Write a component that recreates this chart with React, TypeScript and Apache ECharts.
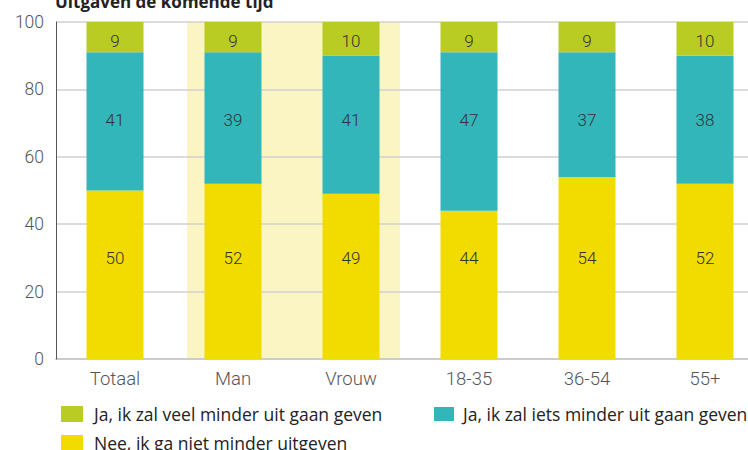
import React, { useEffect, useRef } from "react";
import * as echarts from "echarts";

const categories = ["Totaal", "Man", "Vrouw", "18-35", "36-54", "55+"];
const seriesNames = [
  "Ja, ik zal veel minder uit gaan geven",
  "Ja, ik zal iets minder uit gaan geven",
  "Nee, ik ga niet minder uitgeven",
];
const nee = [50, 52, 49, 44, 54, 52];
const iets = [41, 39, 41, 47, 37, 38];
const veel = [9, 9, 10, 9, 9, 10];
const highlightRange = [[1, 2]];
const title = "Uitgaven de komende tijd";
// value level at which each series' labels are printed
const labelLevels = { nee: 30, iets: 71, veel: 94.4 };

const YELLOW = "#f2dc00";
const TEAL = "#33b6ba";
const LIME = "#b8cc23";
const HIGHLIGHT = "#faf5c2";
const NUM_FONT = "Roboto";

export default function App() {
  const ref = useRef<HTMLDivElement>(null);
  useEffect(() => {
    if (!ref.current) return;
    const chart = echarts.init(ref.current, undefined, { renderer: "svg" });
    const legendBase = {
      orient: "horizontal",
      itemWidth: 22,
      itemHeight: 16,
      itemGap: 10,
      icon: "rect",
    };
    const labelData: any[] = [];
    nee.forEach((v, i) => labelData.push([i, labelLevels.nee, v]));
    iets.forEach((v, i) => labelData.push([i, labelLevels.iets, v]));
    veel.forEach((v, i) => labelData.push([i, labelLevels.veel, v]));
    const bar = (name: string, data: number[], color: string) => ({
      name,
      type: "bar",
      stack: "t",
      barWidth: 57,
      data,
      itemStyle: { color },
      z: 2,
    });
    chart.setOption({
      animation: false,
      title: {
        text: title,
        left: 50,
        top: -12,
        textStyle: { fontFamily: "Open Sans", fontWeight: "bold", fontSize: 17, color: "#222" },
      },
      grid: {
        left: 56,
        top: 22,
        width: 708,
        height: 337,
        containLabel: false,
        outerBoundsMode: "none",
      },
      legend: [
        {
          ...legendBase,
          data: [seriesNames[0]],
          left: 56,
          top: 400,
          textStyle: { fontFamily: "Open Sans", fontSize: 17.5, color: "#222", padding: [0, 0, 0, 6] },
        },
        {
          ...legendBase,
          itemWidth: 20,
          itemHeight: 14,
          data: [seriesNames[1]],
          left: 429,
          top: 400,
          textStyle: { fontFamily: "Open Sans", fontSize: 17.5, color: "#222", padding: [0, 0, 0, 4] },
        },
        {
          ...legendBase,
          data: [seriesNames[2]],
          left: 56,
          top: 429,
          textStyle: { fontFamily: "Open Sans", fontSize: 17.5, color: "#222", padding: [0, 0, 0, 6] },
        },
      ],
      xAxis: {
        type: "category",
        data: categories,
        axisLine: { lineStyle: { color: "#aaa", width: 1.5 } },
        axisTick: { show: false },
        axisLabel: {
          color: "#555",
          fontFamily: NUM_FONT,
          fontWeight: 300,
          fontSize: 18.5,
          margin: 10,
        },
      },
      yAxis: {
        type: "value",
        min: 0,
        max: 100,
        interval: 20,
        z: 1,
        axisLine: { show: true, lineStyle: { color: "#555", width: 1 } },
        axisTick: { show: false },
        splitLine: { lineStyle: { color: "#d0d0d0", width: 1.5 } },
        axisLabel: {
          color: "#555",
          fontFamily: NUM_FONT,
          fontWeight: 300,
          fontSize: 17.5,
          margin: 12,
        },
      },
      series: [
        {
          type: "custom",
          z: 0,
          silent: true,
          data: highlightRange,
          encode: { x: [0, 1] },
          renderItem: (params: any, api: any) => {
            const a = api.value(0);
            const b = api.value(1);
            const p1 = api.coord([a, 100]);
            const p2 = api.coord([b, 0]);
            const band = api.size([1, 0])[0];
            const x0 = p1[0] - band * 0.39;
            const x1 = p2[0] + band * 0.415;
            return {
              type: "rect",
              shape: { x: x0, y: p1[1], width: x1 - x0, height: p2[1] - p1[1] },
              style: { fill: HIGHLIGHT },
            };
          },
        },
        bar(seriesNames[2], nee, YELLOW),
        bar(seriesNames[1], iets, TEAL),
        bar(seriesNames[0], veel, LIME),
        {
          type: "custom",
          z: 5,
          silent: true,
          data: labelData,
          encode: { x: 0, y: 1 },
          renderItem: (params: any, api: any) => {
            const p = api.coord([api.value(0), api.value(1)]);
            return {
              type: "text",
              x: p[0],
              y: p[1],
              style: {
                text: String(api.value(2)),
                fill: "#333",
                font: "300 17px " + NUM_FONT,
                align: "center",
                verticalAlign: "middle",
              },
            };
          },
        },
      ],
    });
    return () => chart.dispose();
  }, []);
  return <div ref={ref} style={{ width: 748, height: 450, position: "absolute", left: 0, top: 0 }} />;
}
